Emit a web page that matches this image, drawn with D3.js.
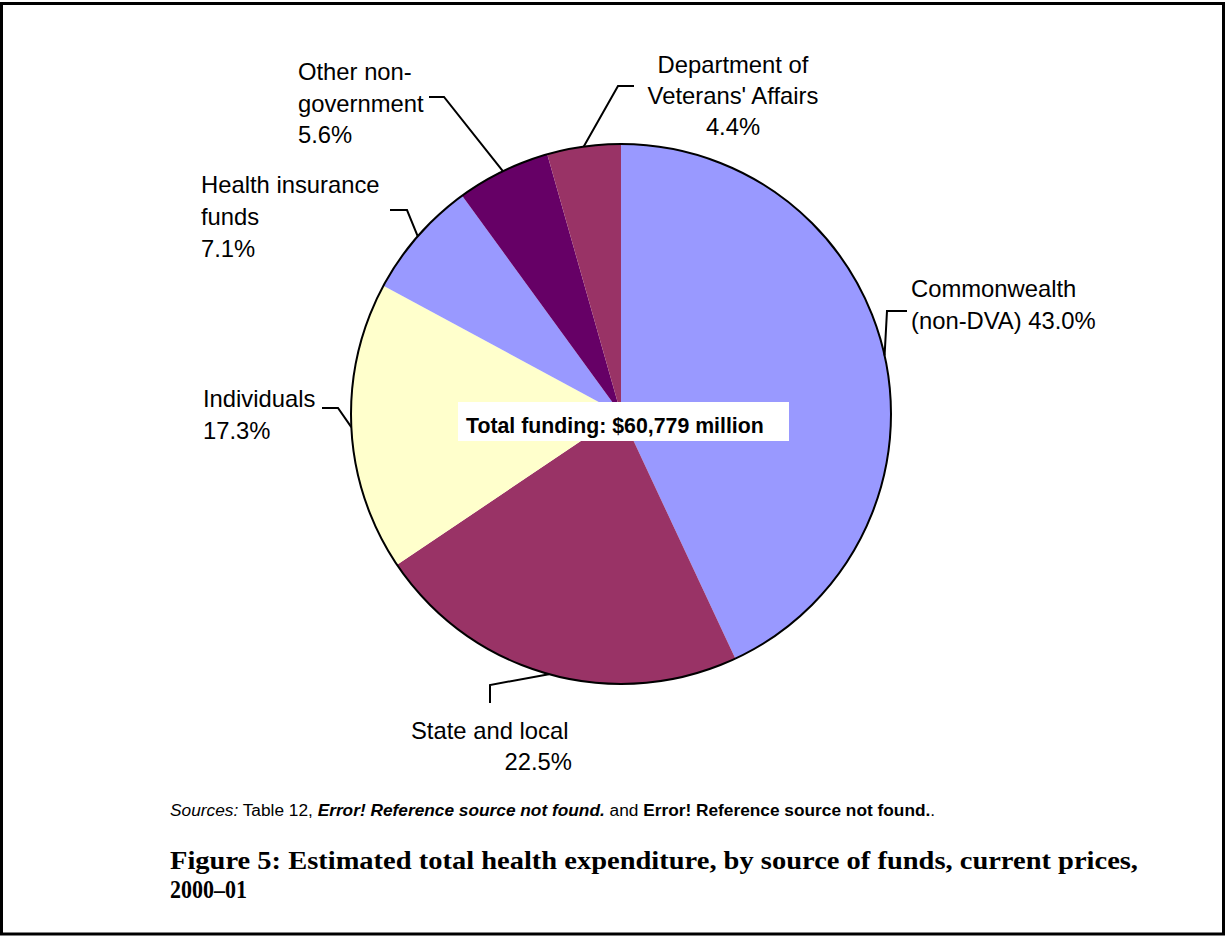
<!DOCTYPE html>
<html><head><meta charset="utf-8">
<script src="https://cdn.jsdelivr.net/npm/d3@7"></script>
<style>body{margin:0;background:#fff}svg{display:block}</style>
</head><body>
<svg id="c" width="1225" height="936"></svg>
<script>
const categories = ["Commonwealth (non-DVA)", "State and local", "Individuals", "Health insurance funds", "Other non-government", "Department of Veterans' Affairs"];
const shares = [43.0, 22.5, 17.3, 7.1, 5.6, 4.4];
const colors = ["#9999FF", "#993366", "#FFFFCC", "#9999FF", "#660066", "#993366"];
const labelLines = [
  ["Commonwealth", "(non-DVA) 43.0%"],
  ["State and local", "22.5%"],
  ["Individuals", "17.3%"],
  ["Health insurance", "funds", "7.1%"],
  ["Other non-", "government", "5.6%"],
  ["Department of", "Veterans' Affairs", "4.4%"]
];
const centerText = "Total funding: $60,779 million";
const titleLines = ["Figure 5: Estimated total health expenditure, by source of funds, current prices,", "2000\u201301"];

const svg = d3.select("#c");
svg.append("rect").attr("x", 1.5).attr("y", 3.5).attr("width", 1222).attr("height", 930.5)
  .attr("fill", "#fff").attr("stroke", "#000").attr("stroke-width", 3);

const cx = 621, cy = 414, R = 270;
const g = svg.append("g").attr("transform", `translate(${cx},${cy})`);
const pie = d3.pie().sort(null).value(d => d).startAngle(0).endAngle(2 * Math.PI);
const arcs = pie(shares);
const arc = d3.arc().innerRadius(0).outerRadius(R);
g.selectAll("path.s").data(arcs).join("path").attr("class", "s")
  .attr("d", arc).attr("fill", (d, i) => colors[i]).attr("stroke", "none");
g.append("circle").attr("r", R).attr("fill", "none").attr("stroke", "#000").attr("stroke-width", 2);

// label layout: elbow points and text anchors (layout only)
const layout = [
  {pts: [[887, 311], [907, 311]], x: 911, y: 297, dy: 32, anchor: "start"},
  {pts: [[490, 685], [490, 703]], x: 411, y: 739, dy: 31, anchor: "start", align2: 572},
  {pts: [[338, 408], [322, 408]], x: 203, y: 407, dy: 32, anchor: "start"},
  {pts: [[407, 210], [390, 210]], x: 201, y: 193, dy: 32, anchor: "start"},
  {pts: [[444, 97], [429, 97]], x: 298, y: 80, dy: 31.5, anchor: "start"},
  {pts: [[618, 86], [634, 86]], x: 733, y: 73, dy: 31, anchor: "middle"}
];
const font = "'Liberation Sans', Arial, sans-serif";
arcs.forEach((a, i) => {
  const m = (a.startAngle + a.endAngle) / 2;
  const p0 = [cx + R * Math.sin(m), cy - R * Math.cos(m)];
  const L = layout[i];
  svg.append("polyline").attr("points", [p0, ...L.pts].map(p => p.join(",")).join(" "))
    .attr("fill", "none").attr("stroke", "#000").attr("stroke-width", 2);
  labelLines[i].forEach((t, k) => {
    const isLast = k === labelLines[i].length - 1;
    const useRight = L.align2 && isLast;
    svg.append("text").attr("x", useRight ? L.align2 : L.x).attr("y", L.y + k * L.dy)
      .attr("text-anchor", useRight ? "end" : L.anchor)
      .attr("font-family", font).attr("font-size", 23.8).attr("fill", "#000").text(t);
  });
});

// center box
svg.append("rect").attr("x", 458).attr("y", 402).attr("width", 331).attr("height", 39).attr("fill", "#fff");
svg.append("text").attr("x", 466).attr("y", 433).attr("font-family", font).attr("font-weight", "bold")
  .attr("font-size", 21.3).text(centerText);

// sources
const src = svg.append("text").attr("x", 170).attr("y", 816).attr("font-family", font).attr("font-size", 17.3);
src.append("tspan").attr("font-style", "italic").text("Sources:");
src.append("tspan").text(" Table 12, ");
src.append("tspan").attr("font-style", "italic").attr("font-weight", "bold").text("Error! Reference source not found.");
src.append("tspan").text(" and ");
src.append("tspan").attr("font-weight", "bold").text("Error! Reference source not found.");
src.append("tspan").text(".");

// title
const serif = "'Liberation Serif', 'DejaVu Serif', serif";
svg.append("text").attr("x", 170).attr("y", 869).attr("font-family", serif)
  .attr("font-weight", "bold").attr("font-size", 26).attr("textLength", 968).attr("lengthAdjust", "spacingAndGlyphs")
  .text(titleLines[0]);
svg.append("text").attr("x", 170).attr("y", 898).attr("font-family", serif)
  .attr("font-weight", "bold").attr("font-size", 26).attr("textLength", 77).attr("lengthAdjust", "spacingAndGlyphs")
  .text(titleLines[1]);
</script>
</body></html>
